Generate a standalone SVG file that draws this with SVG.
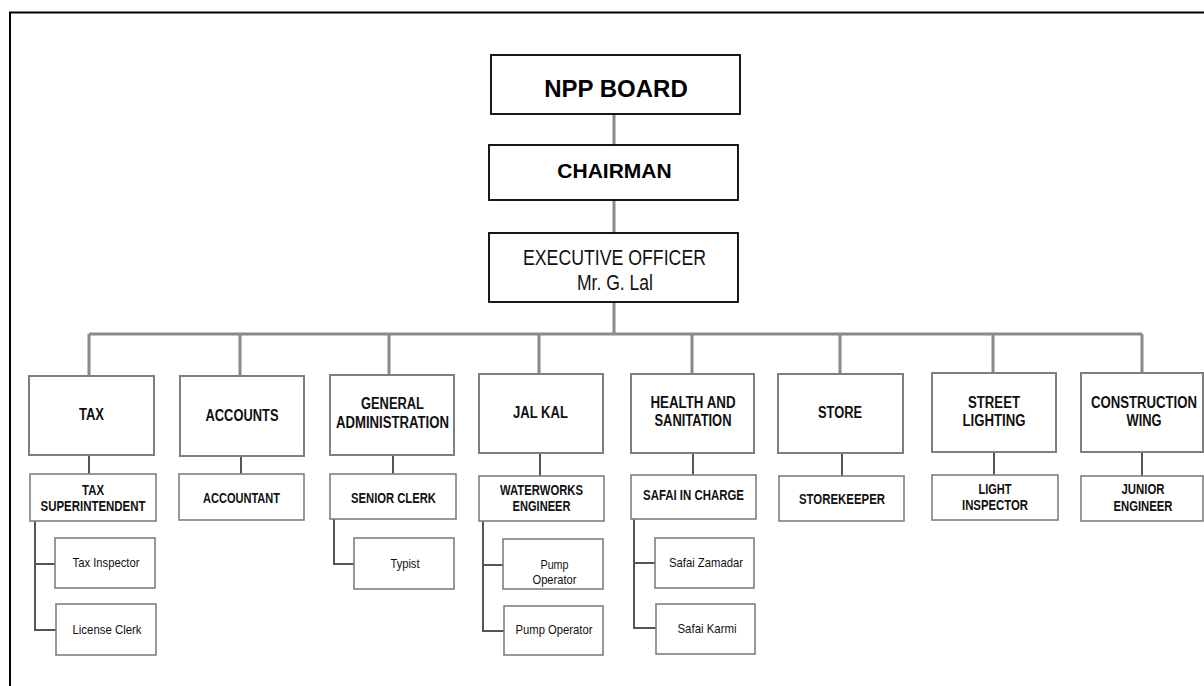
<svg xmlns="http://www.w3.org/2000/svg" width="1204" height="686" viewBox="0 0 1204 686">
  <style>
    .frame { fill: none; stroke: #000; stroke-width: 2; }
    .top { fill: #fff; stroke: #000; stroke-width: 1.8; }
    .dept { fill: #fff; stroke: #7f7f7f; stroke-width: 2; }
    .sub { fill: #fff; stroke: #7f7f7f; stroke-width: 1.6; }
    .trunk { fill: none; stroke: #8a8a8a; stroke-width: 3; }
    .link { fill: none; stroke: #555; stroke-width: 2; }
    text { font-family: "Liberation Sans Narrow", "Arial Narrow", "Liberation Sans", Arial, sans-serif; fill: #111; text-anchor: middle; }
    .big { font-family: "Liberation Sans", Arial, sans-serif; font-weight: bold; fill: #000; }
    .eo { font-size: 21.5px; }
    .dt { font-size: 16px; font-weight: bold; }
    .st { font-size: 14px; font-weight: bold; }
    .rt { font-size: 13.5px; }
  </style>

  <!-- page frame -->
  <path class="frame" d="M10,686 V12.5 H1204"/>

  <!-- connectors -->
  <g id="connectors">
    <path class="trunk" d="M614,114 V145 M614,200 V233 M614,302 V334 M89,334 H1142
      M89,334 V376 M240,334 V376 M389,334 V375 M539,334 V374 M692,334 V374 M840,334 V374 M993,334 V373 M1142,334 V373"/>
    <path class="link" d="M89,455 V474 M241,456 V474 M393,455 V474 M540,453 V476 M693,453 V475 M842,453 V476 M994,452 V475 M1142,452 V476"/>
    <path class="link" d="M35,521 V630 H56 M35,564 H55"/>
    <path class="link" d="M334,519 V564 H354"/>
    <path class="link" d="M483,521 V631 H504 M483,565 H503"/>
    <path class="link" d="M634,519 V628 H656 M634,563 H655"/>
  </g>

  <!-- top levels -->
  <g id="npp-board">
    <rect class="top" x="491" y="55" width="249" height="59"/>
    <text class="big" x="616" y="97" font-size="24">NPP BOARD</text>
  </g>
  <g id="chairman">
    <rect class="top" x="489" y="145" width="249" height="55"/>
    <text class="big" x="614.5" y="178" font-size="21">CHAIRMAN</text>
  </g>
  <g id="executive-officer">
    <rect class="top" x="489" y="233" width="249" height="69"/>
    <text class="eo" x="614.5" y="265" textLength="183" lengthAdjust="spacingAndGlyphs">EXECUTIVE OFFICER</text>
    <text class="eo" x="615" y="290" textLength="76" lengthAdjust="spacingAndGlyphs">Mr. G. Lal</text>
  </g>

  <!-- departments -->
  <g id="tax">
    <rect class="dept" x="29" y="376" width="125" height="79"/>
    <text class="dt" x="91.5" y="420" textLength="25" lengthAdjust="spacingAndGlyphs">TAX</text>
  </g>
  <g id="accounts">
    <rect class="dept" x="180" y="376" width="124" height="80"/>
    <text class="dt" x="242" y="421" textLength="73" lengthAdjust="spacingAndGlyphs">ACCOUNTS</text>
  </g>
  <g id="general-administration">
    <rect class="dept" x="330" y="375" width="124" height="80"/>
    <text class="dt" x="392.5" y="409" textLength="63" lengthAdjust="spacingAndGlyphs">GENERAL</text>
    <text class="dt" x="392.5" y="428" textLength="113" lengthAdjust="spacingAndGlyphs">ADMINISTRATION</text>
  </g>
  <g id="jal-kal">
    <rect class="dept" x="479" y="374" width="124" height="79"/>
    <text class="dt" x="540.5" y="418" textLength="55" lengthAdjust="spacingAndGlyphs">JAL KAL</text>
  </g>
  <g id="health-sanitation">
    <rect class="dept" x="631" y="374" width="123" height="79"/>
    <text class="dt" x="693" y="408" textLength="85" lengthAdjust="spacingAndGlyphs">HEALTH AND</text>
    <text class="dt" x="693" y="426" textLength="77" lengthAdjust="spacingAndGlyphs">SANITATION</text>
  </g>
  <g id="store">
    <rect class="dept" x="778" y="374" width="125" height="79"/>
    <text class="dt" x="840" y="418" textLength="44" lengthAdjust="spacingAndGlyphs">STORE</text>
  </g>
  <g id="street-lighting">
    <rect class="dept" x="932" y="373" width="124" height="79"/>
    <text class="dt" x="994" y="408" textLength="52" lengthAdjust="spacingAndGlyphs">STREET</text>
    <text class="dt" x="994" y="426" textLength="63" lengthAdjust="spacingAndGlyphs">LIGHTING</text>
  </g>
  <g id="construction-wing">
    <rect class="dept" x="1081" y="373" width="122" height="79"/>
    <text class="dt" x="1144" y="408" textLength="106" lengthAdjust="spacingAndGlyphs">CONSTRUCTION</text>
    <text class="dt" x="1144" y="426" textLength="35" lengthAdjust="spacingAndGlyphs">WING</text>
  </g>

  <!-- section heads -->
  <g id="tax-superintendent">
    <rect class="sub" x="30" y="474" width="126" height="47"/>
    <text class="st" x="93" y="495" textLength="22" lengthAdjust="spacingAndGlyphs">TAX</text>
    <text class="st" x="93" y="511" textLength="105" lengthAdjust="spacingAndGlyphs">SUPERINTENDENT</text>
  </g>
  <g id="accountant">
    <rect class="sub" x="179" y="474" width="125" height="46"/>
    <text class="st" x="241.5" y="503" textLength="77" lengthAdjust="spacingAndGlyphs">ACCOUNTANT</text>
  </g>
  <g id="senior-clerk">
    <rect class="sub" x="330" y="474" width="126" height="45"/>
    <text class="st" x="393.5" y="503" textLength="85" lengthAdjust="spacingAndGlyphs">SENIOR CLERK</text>
  </g>
  <g id="waterworks-engineer">
    <rect class="sub" x="479" y="476" width="125" height="45"/>
    <text class="st" x="541.5" y="495" textLength="83" lengthAdjust="spacingAndGlyphs">WATERWORKS</text>
    <text class="st" x="541.5" y="511" textLength="58" lengthAdjust="spacingAndGlyphs">ENGINEER</text>
  </g>
  <g id="safai-in-charge">
    <rect class="sub" x="631" y="475" width="125" height="44"/>
    <text class="st" x="693.5" y="500" textLength="101" lengthAdjust="spacingAndGlyphs">SAFAI IN CHARGE</text>
  </g>
  <g id="storekeeper">
    <rect class="sub" x="779" y="476" width="125" height="45"/>
    <text class="st" x="842" y="504" textLength="86" lengthAdjust="spacingAndGlyphs">STOREKEEPER</text>
  </g>
  <g id="light-inspector">
    <rect class="sub" x="932" y="475" width="126" height="45"/>
    <text class="st" x="995" y="494" textLength="33" lengthAdjust="spacingAndGlyphs">LIGHT</text>
    <text class="st" x="995" y="510" textLength="66" lengthAdjust="spacingAndGlyphs">INSPECTOR</text>
  </g>
  <g id="junior-engineer">
    <rect class="sub" x="1081" y="476" width="122" height="45"/>
    <text class="st" x="1143" y="494" textLength="43" lengthAdjust="spacingAndGlyphs">JUNIOR</text>
    <text class="st" x="1143" y="511" textLength="59" lengthAdjust="spacingAndGlyphs">ENGINEER</text>
  </g>

  <!-- staff -->
  <g id="tax-inspector">
    <rect class="sub" x="55" y="538" width="100" height="50"/>
    <text class="rt" x="106" y="567" textLength="67" lengthAdjust="spacingAndGlyphs">Tax Inspector</text>
  </g>
  <g id="license-clerk">
    <rect class="sub" x="56" y="604" width="100" height="51"/>
    <text class="rt" x="107" y="634" textLength="69" lengthAdjust="spacingAndGlyphs">License Clerk</text>
  </g>
  <g id="typist">
    <rect class="sub" x="354" y="538" width="100" height="51"/>
    <text class="rt" x="405" y="568" textLength="29" lengthAdjust="spacingAndGlyphs">Typist</text>
  </g>
  <g id="pump-operator-1">
    <rect class="sub" x="503" y="539" width="100" height="50"/>
    <text class="rt" x="554.5" y="569" textLength="28" lengthAdjust="spacingAndGlyphs">Pump</text>
    <text class="rt" x="554.5" y="584" textLength="44" lengthAdjust="spacingAndGlyphs">Operator</text>
  </g>
  <g id="pump-operator-2">
    <rect class="sub" x="504" y="606" width="99" height="49"/>
    <text class="rt" x="554" y="634" textLength="77" lengthAdjust="spacingAndGlyphs">Pump Operator</text>
  </g>
  <g id="safai-zamadar">
    <rect class="sub" x="655" y="538" width="99" height="50"/>
    <text class="rt" x="706" y="567" textLength="74" lengthAdjust="spacingAndGlyphs">Safai Zamadar</text>
  </g>
  <g id="safai-karmi">
    <rect class="sub" x="656" y="604" width="99" height="50"/>
    <text class="rt" x="707" y="633" textLength="59" lengthAdjust="spacingAndGlyphs">Safai Karmi</text>
  </g>
</svg>
